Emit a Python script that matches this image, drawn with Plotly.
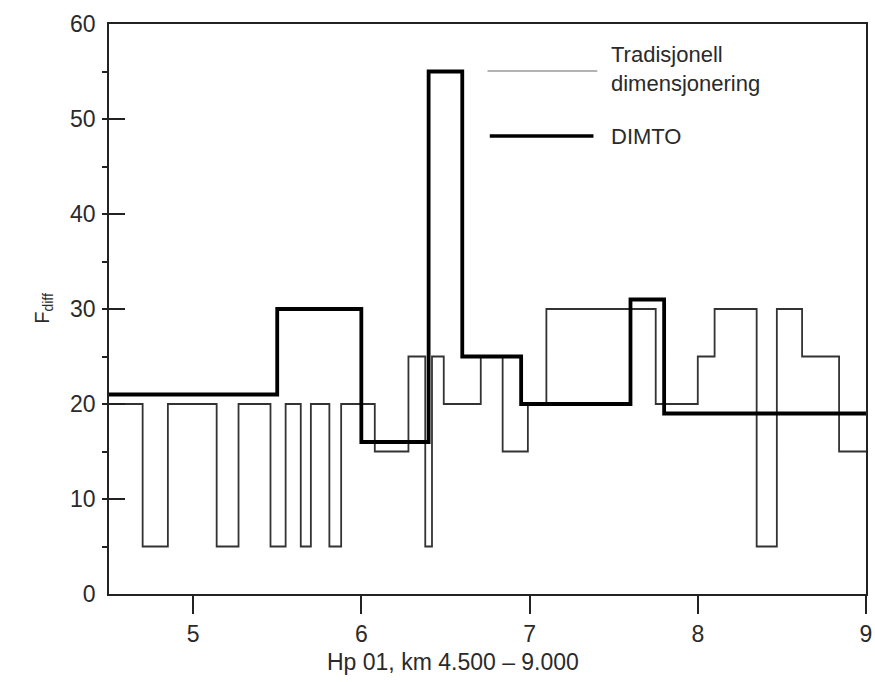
import plotly.graph_objects as go

# Tradisjonell dimensjonering: step boundaries (km) and F_diff values per interval
trad_x = [4.5, 4.7, 4.85, 5.14, 5.27, 5.46, 5.55, 5.64, 5.70, 5.81, 5.88, 6.08,
          6.28, 6.38, 6.42, 6.49, 6.71, 6.84, 6.99, 7.10, 7.75, 8.0, 8.1, 8.35,
          8.47, 8.62, 8.84, 9.0]
trad_y = [20, 5, 20, 5, 20, 5, 20, 5, 20, 5, 20, 15, 25, 5, 25, 20, 25, 15, 20,
          30, 20, 25, 30, 5, 30, 25, 15]

# DIMTO
dimto_x = [4.5, 5.5, 6.0, 6.4, 6.6, 6.95, 7.6, 7.8, 9.0]
dimto_y = [21, 30, 16, 55, 25, 20, 31, 19]

x_ticks = [5, 6, 7, 8, 9]
y_ticks = [0, 10, 20, 30, 40, 50, 60]

FONT = "Liberation Sans, Arial, sans-serif"
TXT = "#2a2a2a"

fig = go.Figure()
fig.add_trace(go.Scatter(
    x=trad_x, y=trad_y + [trad_y[-1]], mode="lines", line_shape="hv",
    line=dict(color="#333333", width=1.8), name="Tradisjonell dimensjonering",
    showlegend=False, hoverinfo="skip"))
fig.add_trace(go.Scatter(
    x=dimto_x, y=dimto_y + [dimto_y[-1]], mode="lines", line_shape="hv",
    line=dict(color="#000000", width=3.8), name="DIMTO", showlegend=False,
    hoverinfo="skip"))

# manual legend
fig.add_shape(type="line", xref="paper", yref="paper", x0=0.50, x1=0.645,
              y0=0.9175, y1=0.9175, line=dict(color="#9a9a9a", width=1.6))
fig.add_shape(type="line", xref="paper", yref="paper", x0=0.503, x1=0.64,
              y0=0.8035, y1=0.8035, line=dict(color="#000000", width=3.4))
fig.add_annotation(xref="paper", yref="paper", x=0.661, y=0.921, xanchor="left",
                   yanchor="middle", showarrow=False, align="left",
                   text="Tradisjonell<br>dimensjonering",
                   font=dict(family=FONT, size=22, color=TXT))
fig.add_annotation(xref="paper", yref="paper", x=0.661, y=0.8035, xanchor="left",
                   yanchor="middle", showarrow=False, text="DIMTO",
                   font=dict(family=FONT, size=22, color=TXT))

# axis titles
fig.add_annotation(xref="paper", yref="paper", x=0.454, y=-0.119,
                   xanchor="center", yanchor="middle", showarrow=False,
                   text="Hp 01, km 4.500 – 9.000",
                   font=dict(family=FONT, size=23, color=TXT))
fig.add_annotation(xref="paper", yref="paper", x=-0.086, y=0.502,
                   xanchor="center", yanchor="middle", showarrow=False,
                   textangle=-90, text="F<sub>diff</sub>",
                   font=dict(family=FONT, size=20, color=TXT))

fig.update_layout(
    width=875, height=682,
    margin=dict(l=109, r=9, t=24, b=88),
    plot_bgcolor="white", paper_bgcolor="white",
    font=dict(family=FONT, size=23, color=TXT),
    showlegend=False,
    xaxis=dict(range=[4.5, 9], tickvals=x_ticks, ticks="outside", ticklen=18,
               tickwidth=1.5, tickcolor="#222", showgrid=False, zeroline=False,
               showline=True, linecolor="#222", linewidth=1.8, mirror=True,
               automargin=False, ticklabelstandoff=0, ticklabeloverflow="allow"),
    yaxis=dict(range=[0, 60], tickvals=y_ticks, ticks="inside", ticklen=16,
               tickwidth=1.5, tickcolor="#222", showgrid=False, zeroline=False,
               showline=True, linecolor="#222", linewidth=1.8, mirror=True,
               automargin=False, ticklabelstandoff=7,
               minor=dict(dtick=5, ticks="outside", ticklen=5, tickwidth=1.5,
                          tickcolor="#222")),
)

fig.write_html(
    "out.html",
    config={"displayModeBar": False},
    post_script="document.body.style.margin='0';document.body.style.overflow='hidden';",
)
